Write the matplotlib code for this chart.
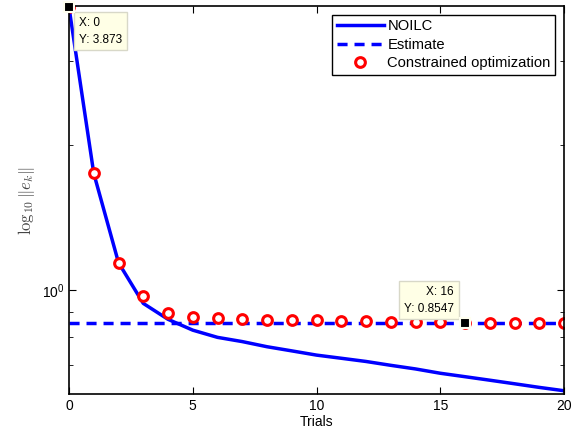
import numpy as np
import matplotlib.pyplot as plt
from matplotlib.ticker import LogLocator, NullFormatter, FixedLocator, FixedFormatter

plt.rcParams['font.family'] = ['Liberation Sans', 'DejaVu Sans']
plt.rcParams['mathtext.fontset'] = 'cm'

trials = np.arange(0, 21)
noilc = [3.873, 1.75, 1.141, 0.939, 0.870, 0.826, 0.798, 0.782, 0.763, 0.748, 0.733,
         0.722, 0.711, 0.698, 0.686, 0.672, 0.661, 0.650, 0.639, 0.628, 0.618]
estimate = 0.8547
constrained = [3.873, 1.75, 1.141, 0.973, 0.895, 0.881, 0.875, 0.871, 0.868, 0.867, 0.866,
               0.864, 0.861, 0.859, 0.858, 0.857, 0.856, 0.856, 0.855, 0.855, 0.855]
tips = [(0, 3.873), (16, 0.8547)]

fig = plt.figure(figsize=(5.79, 4.36), dpi=100)
ax = fig.add_axes([0.1192, 0.0952, 0.8549, 0.8910])

ax.plot(trials, noilc, color='#0000ff', lw=2.5, label='NOILC')
ax.plot(trials, [estimate] * len(trials), color='#0000ff', lw=2.5, ls=(0, (2.9, 2.0)), label='Estimate')
ax.plot(trials, constrained, ls='none', marker='o', ms=7, mfc='white', mec='#ff0000', mew=2.2,
        label='Constrained optimization')

ax.set_yscale('log')
ax.set_xlim(0, 20)
ax.set_ylim(0.607, 3.90)
ax.set_xticks([0, 5, 10, 15, 20])
ax.yaxis.set_major_locator(FixedLocator([1.0]))
ax.yaxis.set_major_formatter(FixedFormatter([r'$\mathregular{10^0}$']))
ax.yaxis.set_minor_locator(LogLocator(base=10, subs=np.arange(2, 10), numticks=20))
ax.yaxis.set_minor_formatter(NullFormatter())
ax.tick_params(which='both', direction='in', top=True, right=True, labelsize=10)
ax.tick_params(which='major', length=5)
ax.tick_params(which='minor', length=3)
for s in ax.spines.values():
    s.set_linewidth(1.2)

ax.set_xlabel('Trials', fontsize=10, labelpad=1)
ax.set_ylabel(r'$\log_{10}\|e_k\|$', fontsize=12, color='#444444', labelpad=3)

# data tips
for (tx, ty) in tips:
    ax.plot(tx, ty, marker='s', ms=7, mfc='black', mec='#fffff0', mew=1.5, clip_on=False, zorder=5)
ax.annotate('X: 0\nY: 3.873', xy=(0, 3.873), xytext=(7, -7), textcoords='offset points',
            ha='left', va='top', fontsize=8.5, linespacing=1.5,
            bbox=dict(boxstyle='square,pad=0.4', fc='#ffffe6', ec='#d8d8c8', lw=1))
ax.annotate('X: 16\nY: 0.8547', xy=(16, 0.8547), xytext=(-8, 6), textcoords='offset points',
            ha='right', va='bottom', fontsize=8.5, linespacing=1.5, multialignment='right',
            bbox=dict(boxstyle='square,pad=0.4', fc='#ffffe6', ec='#d8d8c8', lw=1))

leg = ax.legend(loc='upper right', fontsize=10.6, fancybox=False, edgecolor='black',
                framealpha=1, handlelength=3.2, borderaxespad=0.6, labelspacing=0.3,
                handletextpad=0.25, borderpad=0.3)
leg.get_frame().set_linewidth(1.0)

fig.savefig('out.png', dpi=100)
